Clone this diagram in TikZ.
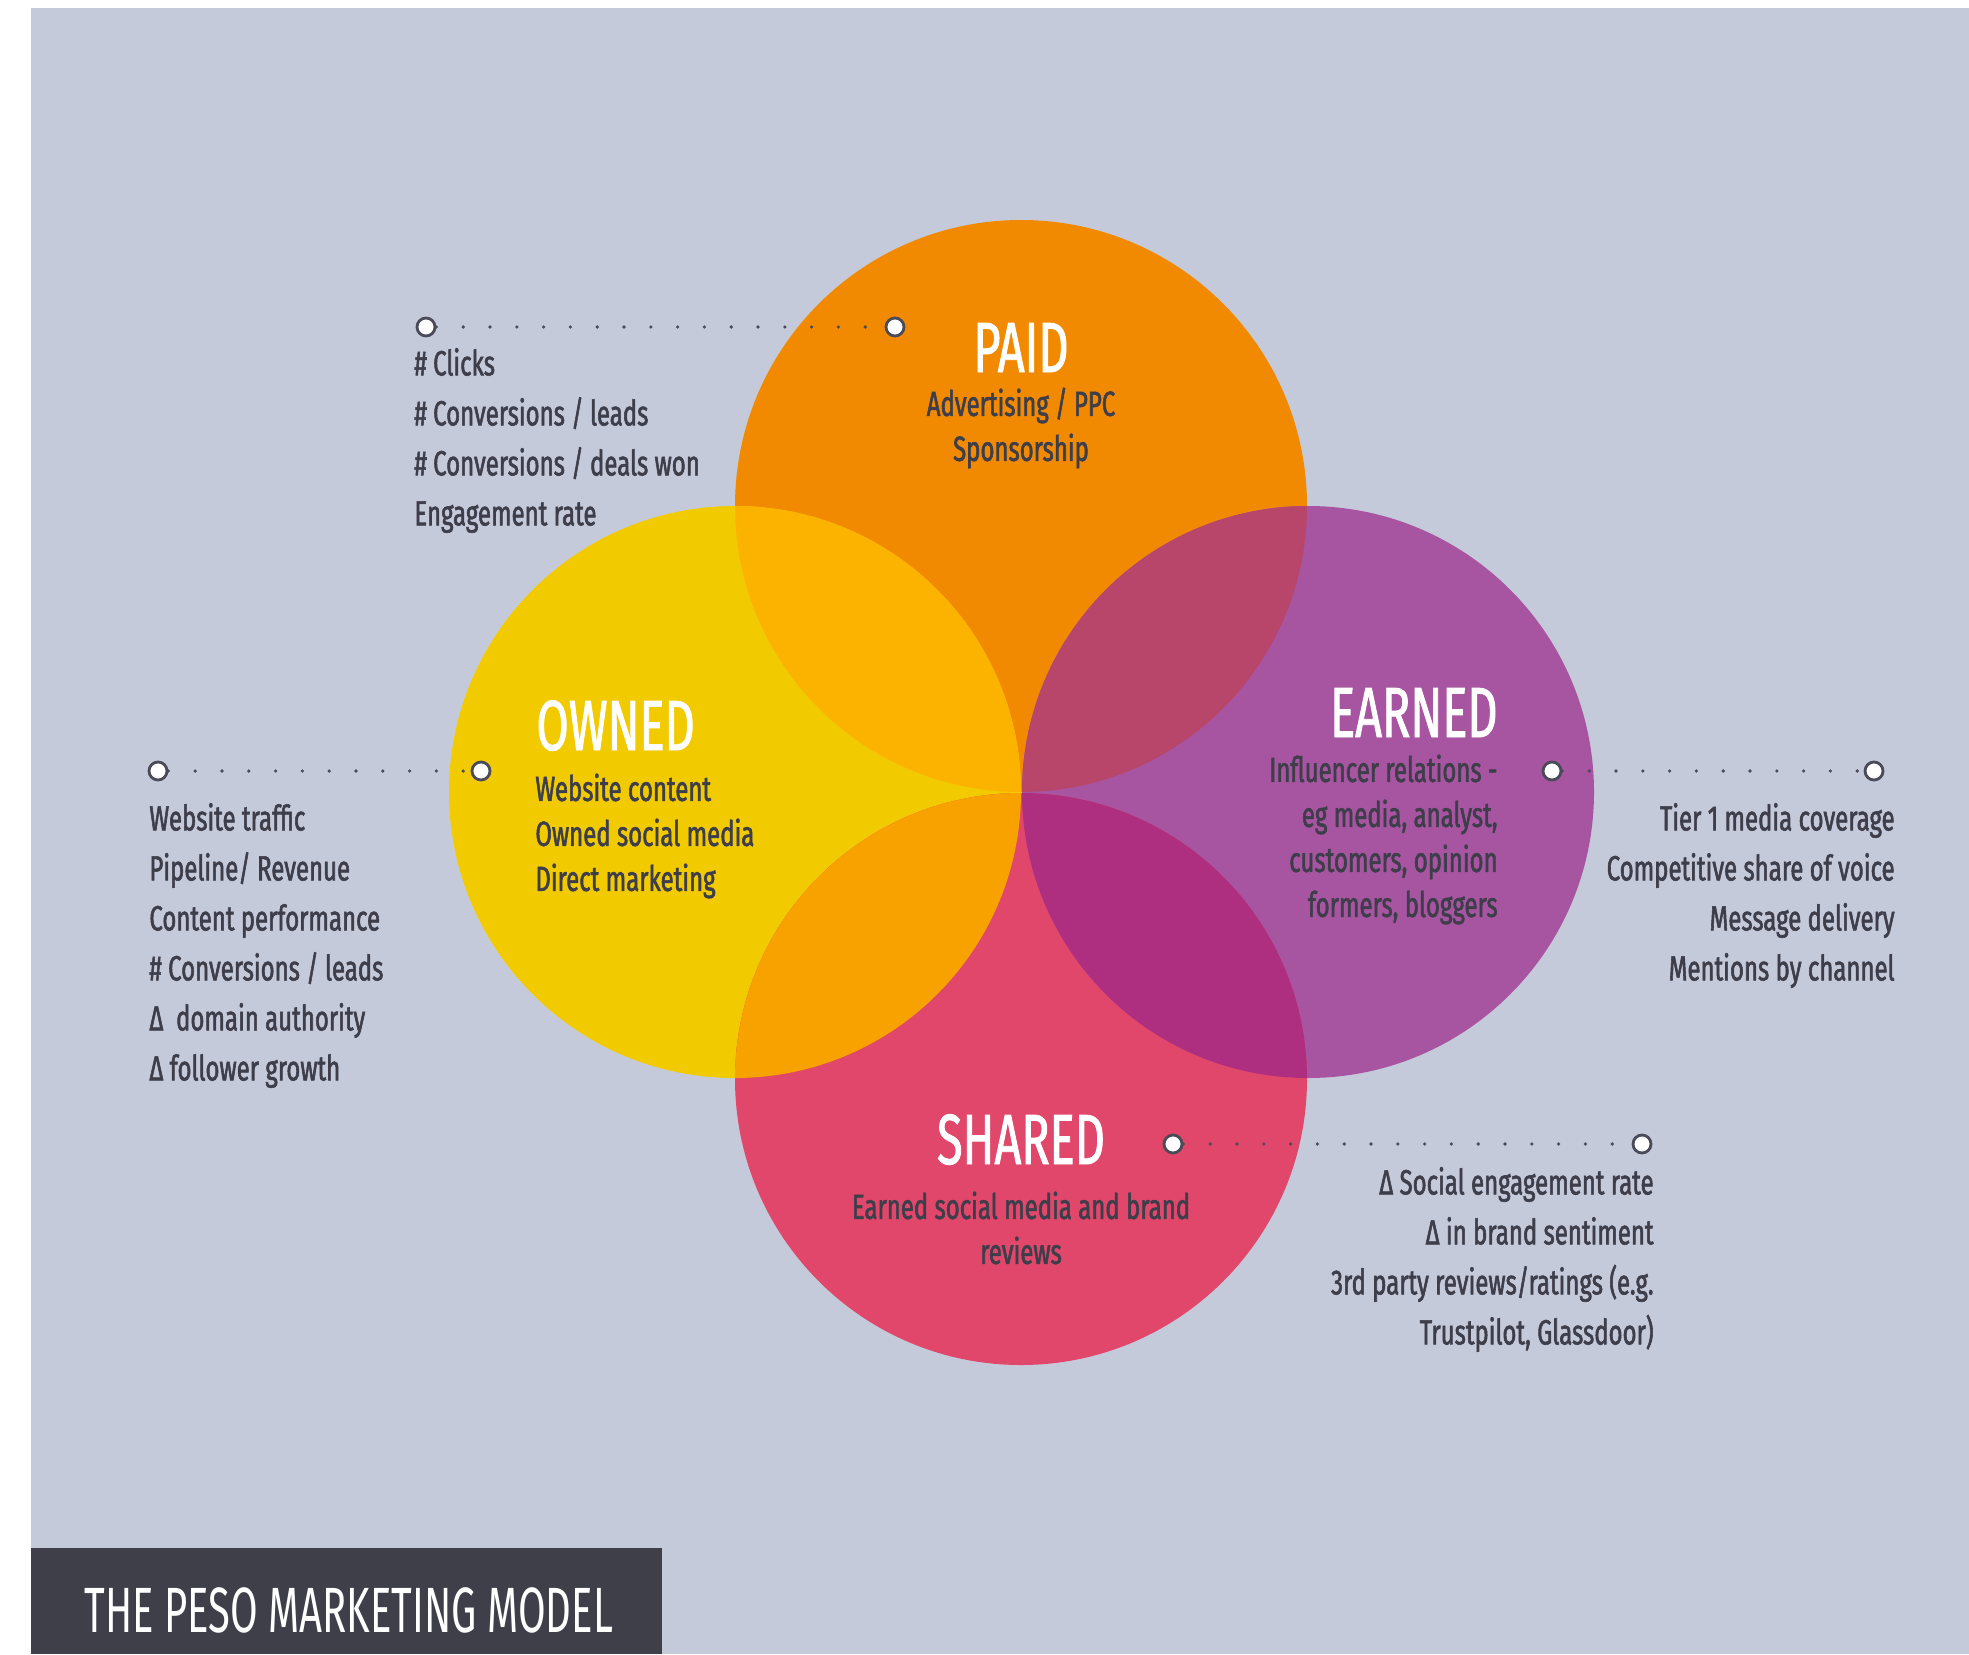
\documentclass[tikz,border=0pt]{standalone}
\usepackage{fontspec}
\newfontfamily\bodyfont{Fira Sans}[FakeStretch=0.685, FakeBold=1.6]
\newfontfamily\headfont{Fira Sans}[FakeStretch=0.66, FakeBold=1.2]
\newfontfamily\boxfont{Fira Sans}[FakeStretch=0.625]
\definecolor{bgc}{HTML}{C5CADA}
\definecolor{paidc}{HTML}{F18A00}
\definecolor{ownedc}{HTML}{F2CA00}
\definecolor{earnedc}{HTML}{A855A1}
\definecolor{sharedc}{HTML}{E0476A}
\definecolor{poc}{HTML}{FBB300}
\definecolor{pec}{HTML}{B8466A}
\definecolor{osc}{HTML}{F8A200}
\definecolor{esc}{HTML}{AE2F80}
\definecolor{txtc}{HTML}{3E3E4B}
\definecolor{boxc}{HTML}{3F3F4A}
\definecolor{dotc}{HTML}{4A4A58}
\tikzset{
  metric/.style={inner sep=0pt, text=txtc, font=\bodyfont\fontsize{17.5}{25}\selectfont},
  subtext/.style={inner sep=0pt, text=txtc, font=\bodyfont\fontsize{17.5}{22.5}\selectfont},
  headtext/.style={inner sep=0pt, text=white, font=\headfont\fontsize{35.5}{40}\selectfont},
  pin/.style={circle, draw=dotc, fill=white, line width=1.4pt, minimum size=9pt, inner sep=0pt},
  dotline/.style={draw=dotc, line width=1.8pt, line cap=round, dash pattern=on 0pt off 13.4pt},
}
\begin{document}
\begin{tikzpicture}[x=0.5pt,y=-0.5pt]
\useasboundingbox (0,0) rectangle (1969,1654);
\fill[white] (0,0) rectangle (1969,1654);
\fill[bgc] (31,8) rectangle (1969,1654);
% circle centres
\coordinate (cP) at (1021,506);
\coordinate (cO) at (735,792);
\coordinate (cE) at (1308,792);
\coordinate (cS) at (1021,1079);
\fill[paidc] (cP) circle[radius=143pt];
\fill[ownedc] (cO) circle[radius=143pt];
\fill[earnedc] (cE) circle[radius=143pt];
\fill[sharedc] (cS) circle[radius=143pt];
\begin{scope}\clip (cP) circle[radius=143pt]; \fill[poc] (cO) circle[radius=143pt];\end{scope}
\begin{scope}\clip (cP) circle[radius=143pt]; \fill[pec] (cE) circle[radius=143pt];\end{scope}
\begin{scope}\clip (cS) circle[radius=143pt]; \fill[osc] (cO) circle[radius=143pt];\end{scope}
\begin{scope}\clip (cS) circle[radius=143pt]; \fill[esc] (cE) circle[radius=143pt];\end{scope}
% connectors
\node[pin] (pa) at (426,327) {};
\node[pin] (pb) at (895,327) {};
\draw[dotline] (pa) -- (pb);
\node[pin] (oa) at (158,771) {};
\node[pin] (ob) at (481,771) {};
\draw[dotline] (oa) -- (ob);
\node[pin] (ea) at (1552,771) {};
\node[pin] (eb) at (1874,771) {};
\draw[dotline] (ea) -- (eb);
\node[pin] (sa) at (1173,1144) {};
\node[pin] (sb) at (1642,1144) {};
\draw[dotline] (sa) -- (sb);
% titles
\node[headtext, anchor=base] (tP) at (1021,372) {PAID};
\node[headtext, anchor=base west] (tO) at (536,750) {OWNED};
\node[headtext, anchor=base east] (tE) at (1498,737) {EARNED};
\node[headtext, anchor=base] (tS) at (1021,1164) {SHARED};
% descriptions
\node[subtext, anchor=north, align=center] (dP) at (1021,384) {\strut Advertising / PPC\\Sponsorship};
\node[subtext, anchor=north west, align=left] (dO) at (535,769) {\strut Website content\\Owned social media\\Direct marketing};
\node[subtext, anchor=north east, align=right] (dE) at (1498,750) {\strut Influencer relations -\\eg media, analyst,\\customers, opinion\\formers, bloggers};
\node[subtext, anchor=north, align=center] (dS) at (1021,1187) {\strut Earned social media and brand\\reviews};
% metrics
\node[metric, anchor=north west, align=left] (mP) at (414,340) {\strut\# Clicks\\\# Conversions / leads\\\# Conversions / deals won\\Engagement rate};
\node[metric, anchor=north west, align=left] (mO) at (149,795) {\strut Website traffic\\Pipeline/ Revenue\\Content performance\\\# Conversions / leads\\Δ\ \ domain authority\\Δ follower growth};
\node[metric, anchor=north east, align=right] (mE) at (1895,795) {\strut Tier 1 media coverage\\Competitive share of voice\\Message delivery\\Mentions by channel};
\node[metric, anchor=north east, align=right] (mS) at (1654,1159) {\strut Δ Social engagement rate\\Δ in brand sentiment\\3rd party reviews/ratings (e.g.\\Trustpilot, Glassdoor)};
% title box
\fill[boxc] (31,1548) rectangle (662,1654);
\node[inner sep=0pt, text=white, anchor=base west, font=\boxfont\fontsize{32}{36}\selectfont] (title) at (84,1632) {THE PESO MARKETING MODEL};
\end{tikzpicture}
\end{document}
